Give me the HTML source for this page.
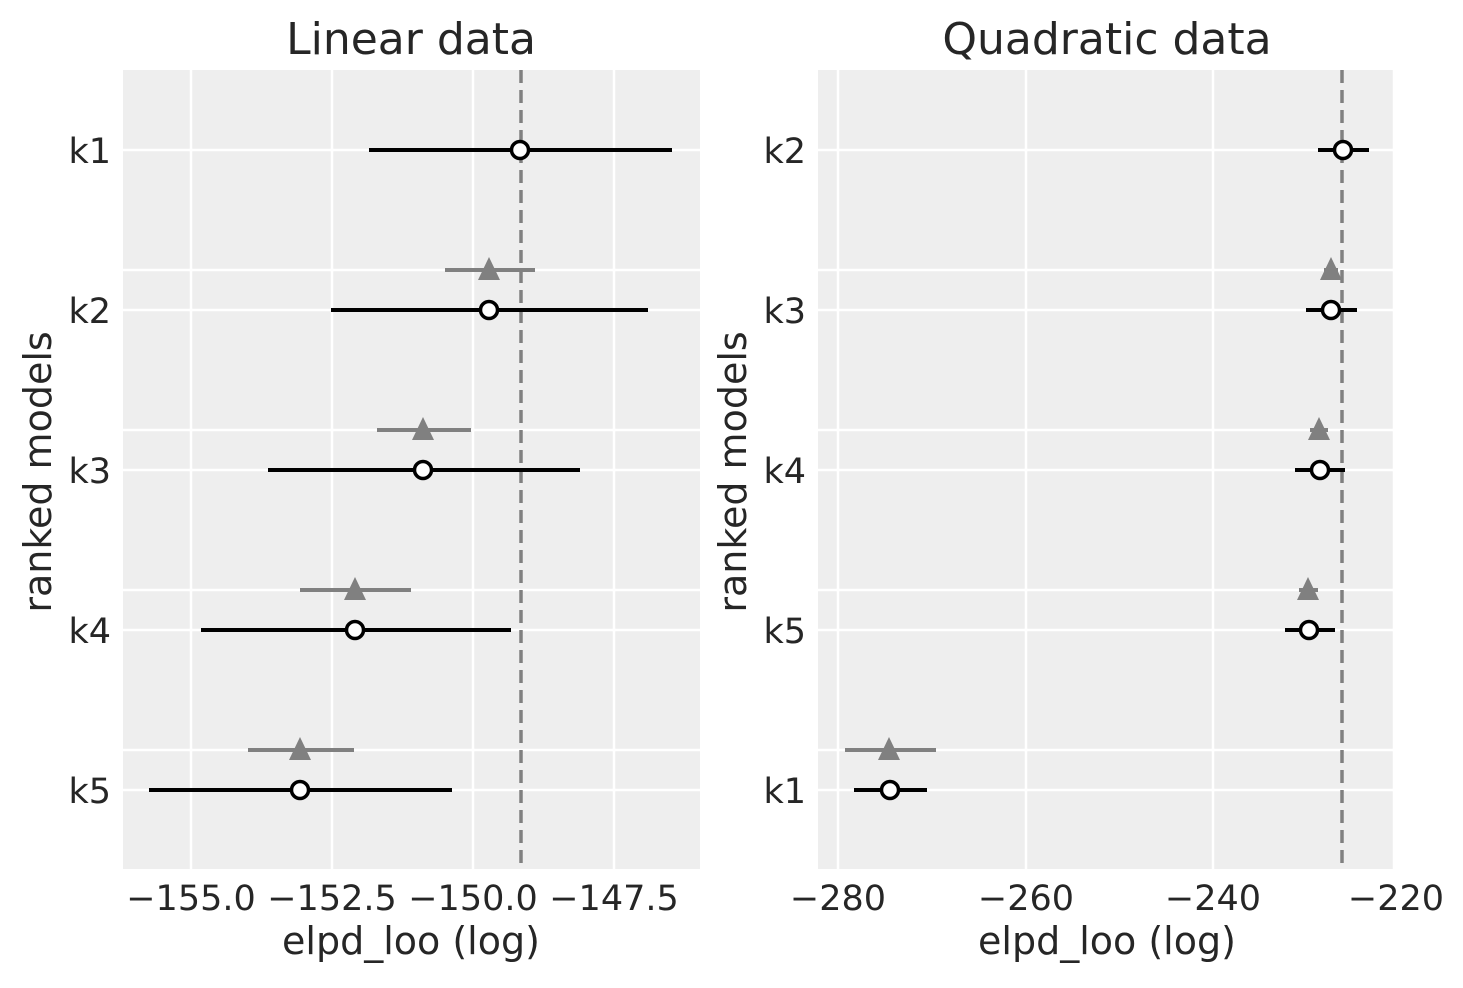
<!DOCTYPE html>
<html><head><meta charset="utf-8"><style>
html,body{margin:0;padding:0;background:#fff;}
svg text{font-family:"DejaVu Sans","Liberation Sans",sans-serif;fill:#262626;}
</style></head><body>
<svg width="1463" height="983" viewBox="0 0 1463 983" xmlns="http://www.w3.org/2000/svg">
<!-- Left panel -->
<rect x="123" y="70" width="577" height="799" fill="#eeeeee"/>
<g stroke="#fff" stroke-width="2.5">
<line x1="191" y1="70" x2="191" y2="869"/><line x1="332" y1="70" x2="332" y2="869"/>
<line x1="473" y1="70" x2="473" y2="869"/><line x1="614" y1="70" x2="614" y2="869"/>
<line x1="123" y1="150" x2="700" y2="150"/><line x1="123" y1="270" x2="700" y2="270"/>
<line x1="123" y1="310" x2="700" y2="310"/><line x1="123" y1="430" x2="700" y2="430"/>
<line x1="123" y1="470" x2="700" y2="470"/><line x1="123" y1="590" x2="700" y2="590"/>
<line x1="123" y1="630" x2="700" y2="630"/><line x1="123" y1="750" x2="700" y2="750"/>
<line x1="123" y1="790" x2="700" y2="790"/>
</g>
<line x1="521" y1="70" x2="521" y2="869" stroke="#808080" stroke-width="3.5" stroke-dasharray="13,7"/>
<g stroke="#808080" stroke-width="4">
<line x1="445" y1="270" x2="535" y2="270"/><line x1="377" y1="430" x2="471" y2="430"/>
<line x1="300" y1="590" x2="411" y2="590"/><line x1="248" y1="750" x2="354" y2="750"/>
</g>
<g fill="#808080">
<polygon points="489,257 478,280 500,280"/><polygon points="423,417 412,440 434,440"/>
<polygon points="355,577 344,600 366,600"/><polygon points="300,737 289,760 311,760"/>
</g>
<g stroke="#000" stroke-width="4">
<line x1="369" y1="150" x2="672" y2="150"/><line x1="331" y1="310" x2="648" y2="310"/>
<line x1="268" y1="470" x2="580" y2="470"/><line x1="201" y1="630" x2="511" y2="630"/>
<line x1="149" y1="790" x2="452" y2="790"/>
</g>
<g fill="#fff" stroke="#000" stroke-width="3.5">
<circle cx="520" cy="150" r="8.5"/><circle cx="489" cy="310" r="8.5"/><circle cx="423" cy="470" r="8.5"/>
<circle cx="355" cy="630" r="8.5"/><circle cx="300" cy="790" r="8.5"/>
</g>
<text x="411" y="54" font-size="44" text-anchor="middle">Linear data</text>
<g font-size="35" text-anchor="end">
<text x="111" y="163">k1</text><text x="111" y="323">k2</text><text x="111" y="483">k3</text>
<text x="111" y="643">k4</text><text x="111" y="803">k5</text>
</g>
<g font-size="35" text-anchor="middle">
<text x="191" y="910">−155.0</text><text x="332" y="910">−152.5</text>
<text x="473" y="910">−150.0</text><text x="614" y="910">−147.5</text>
</g>
<text x="411" y="954" font-size="38" text-anchor="middle">elpd_loo (log)</text>
<text transform="translate(51,472) rotate(-90)" font-size="38" text-anchor="middle">ranked models</text>

<!-- Right panel -->
<rect x="818" y="70" width="577" height="799" fill="#eeeeee"/>
<g stroke="#fff" stroke-width="2.5">
<line x1="838" y1="70" x2="838" y2="869"/><line x1="1026" y1="70" x2="1026" y2="869"/>
<line x1="1213" y1="70" x2="1213" y2="869"/><line x1="1394" y1="70" x2="1394" y2="869"/>
<line x1="818" y1="150" x2="1395" y2="150"/><line x1="818" y1="270" x2="1395" y2="270"/>
<line x1="818" y1="310" x2="1395" y2="310"/><line x1="818" y1="430" x2="1395" y2="430"/>
<line x1="818" y1="470" x2="1395" y2="470"/><line x1="818" y1="590" x2="1395" y2="590"/>
<line x1="818" y1="630" x2="1395" y2="630"/><line x1="818" y1="750" x2="1395" y2="750"/>
<line x1="818" y1="790" x2="1395" y2="790"/>
</g>
<line x1="1342" y1="70" x2="1342" y2="869" stroke="#808080" stroke-width="3.5" stroke-dasharray="13,7"/>
<g stroke="#808080" stroke-width="4">
<line x1="1324" y1="270" x2="1338" y2="270"/><line x1="1310" y1="430" x2="1328" y2="430"/>
<line x1="1299" y1="590" x2="1318" y2="590"/><line x1="845" y1="750" x2="936" y2="750"/>
</g>
<g fill="#808080">
<polygon points="1331,257 1320,280 1342,280"/><polygon points="1319,417 1308,440 1330,440"/>
<polygon points="1308,577 1297,600 1319,600"/><polygon points="889,737 878,760 900,760"/>
</g>
<g stroke="#000" stroke-width="4">
<line x1="1318" y1="150" x2="1369" y2="150"/><line x1="1306" y1="310" x2="1357" y2="310"/>
<line x1="1295" y1="470" x2="1345" y2="470"/><line x1="1285" y1="630" x2="1335" y2="630"/>
<line x1="854" y1="790" x2="927" y2="790"/>
</g>
<g fill="#fff" stroke="#000" stroke-width="3.5">
<circle cx="1343" cy="150" r="8.5"/><circle cx="1331" cy="310" r="8.5"/><circle cx="1320" cy="470" r="8.5"/>
<circle cx="1309" cy="630" r="8.5"/><circle cx="890" cy="790" r="8.5"/>
</g>
<text x="1107" y="54" font-size="44" text-anchor="middle">Quadratic data</text>
<g font-size="35" text-anchor="end">
<text x="806" y="163">k2</text><text x="806" y="323">k3</text><text x="806" y="483">k4</text>
<text x="806" y="643">k5</text><text x="806" y="803">k1</text>
</g>
<g font-size="35" text-anchor="middle">
<text x="838" y="910">−280</text><text x="1026" y="910">−260</text>
<text x="1213" y="910">−240</text><text x="1396" y="910">−220</text>
</g>
<text x="1107" y="954" font-size="38" text-anchor="middle">elpd_loo (log)</text>
<text transform="translate(746,472) rotate(-90)" font-size="38" text-anchor="middle">ranked models</text>
</svg>
</body></html>
